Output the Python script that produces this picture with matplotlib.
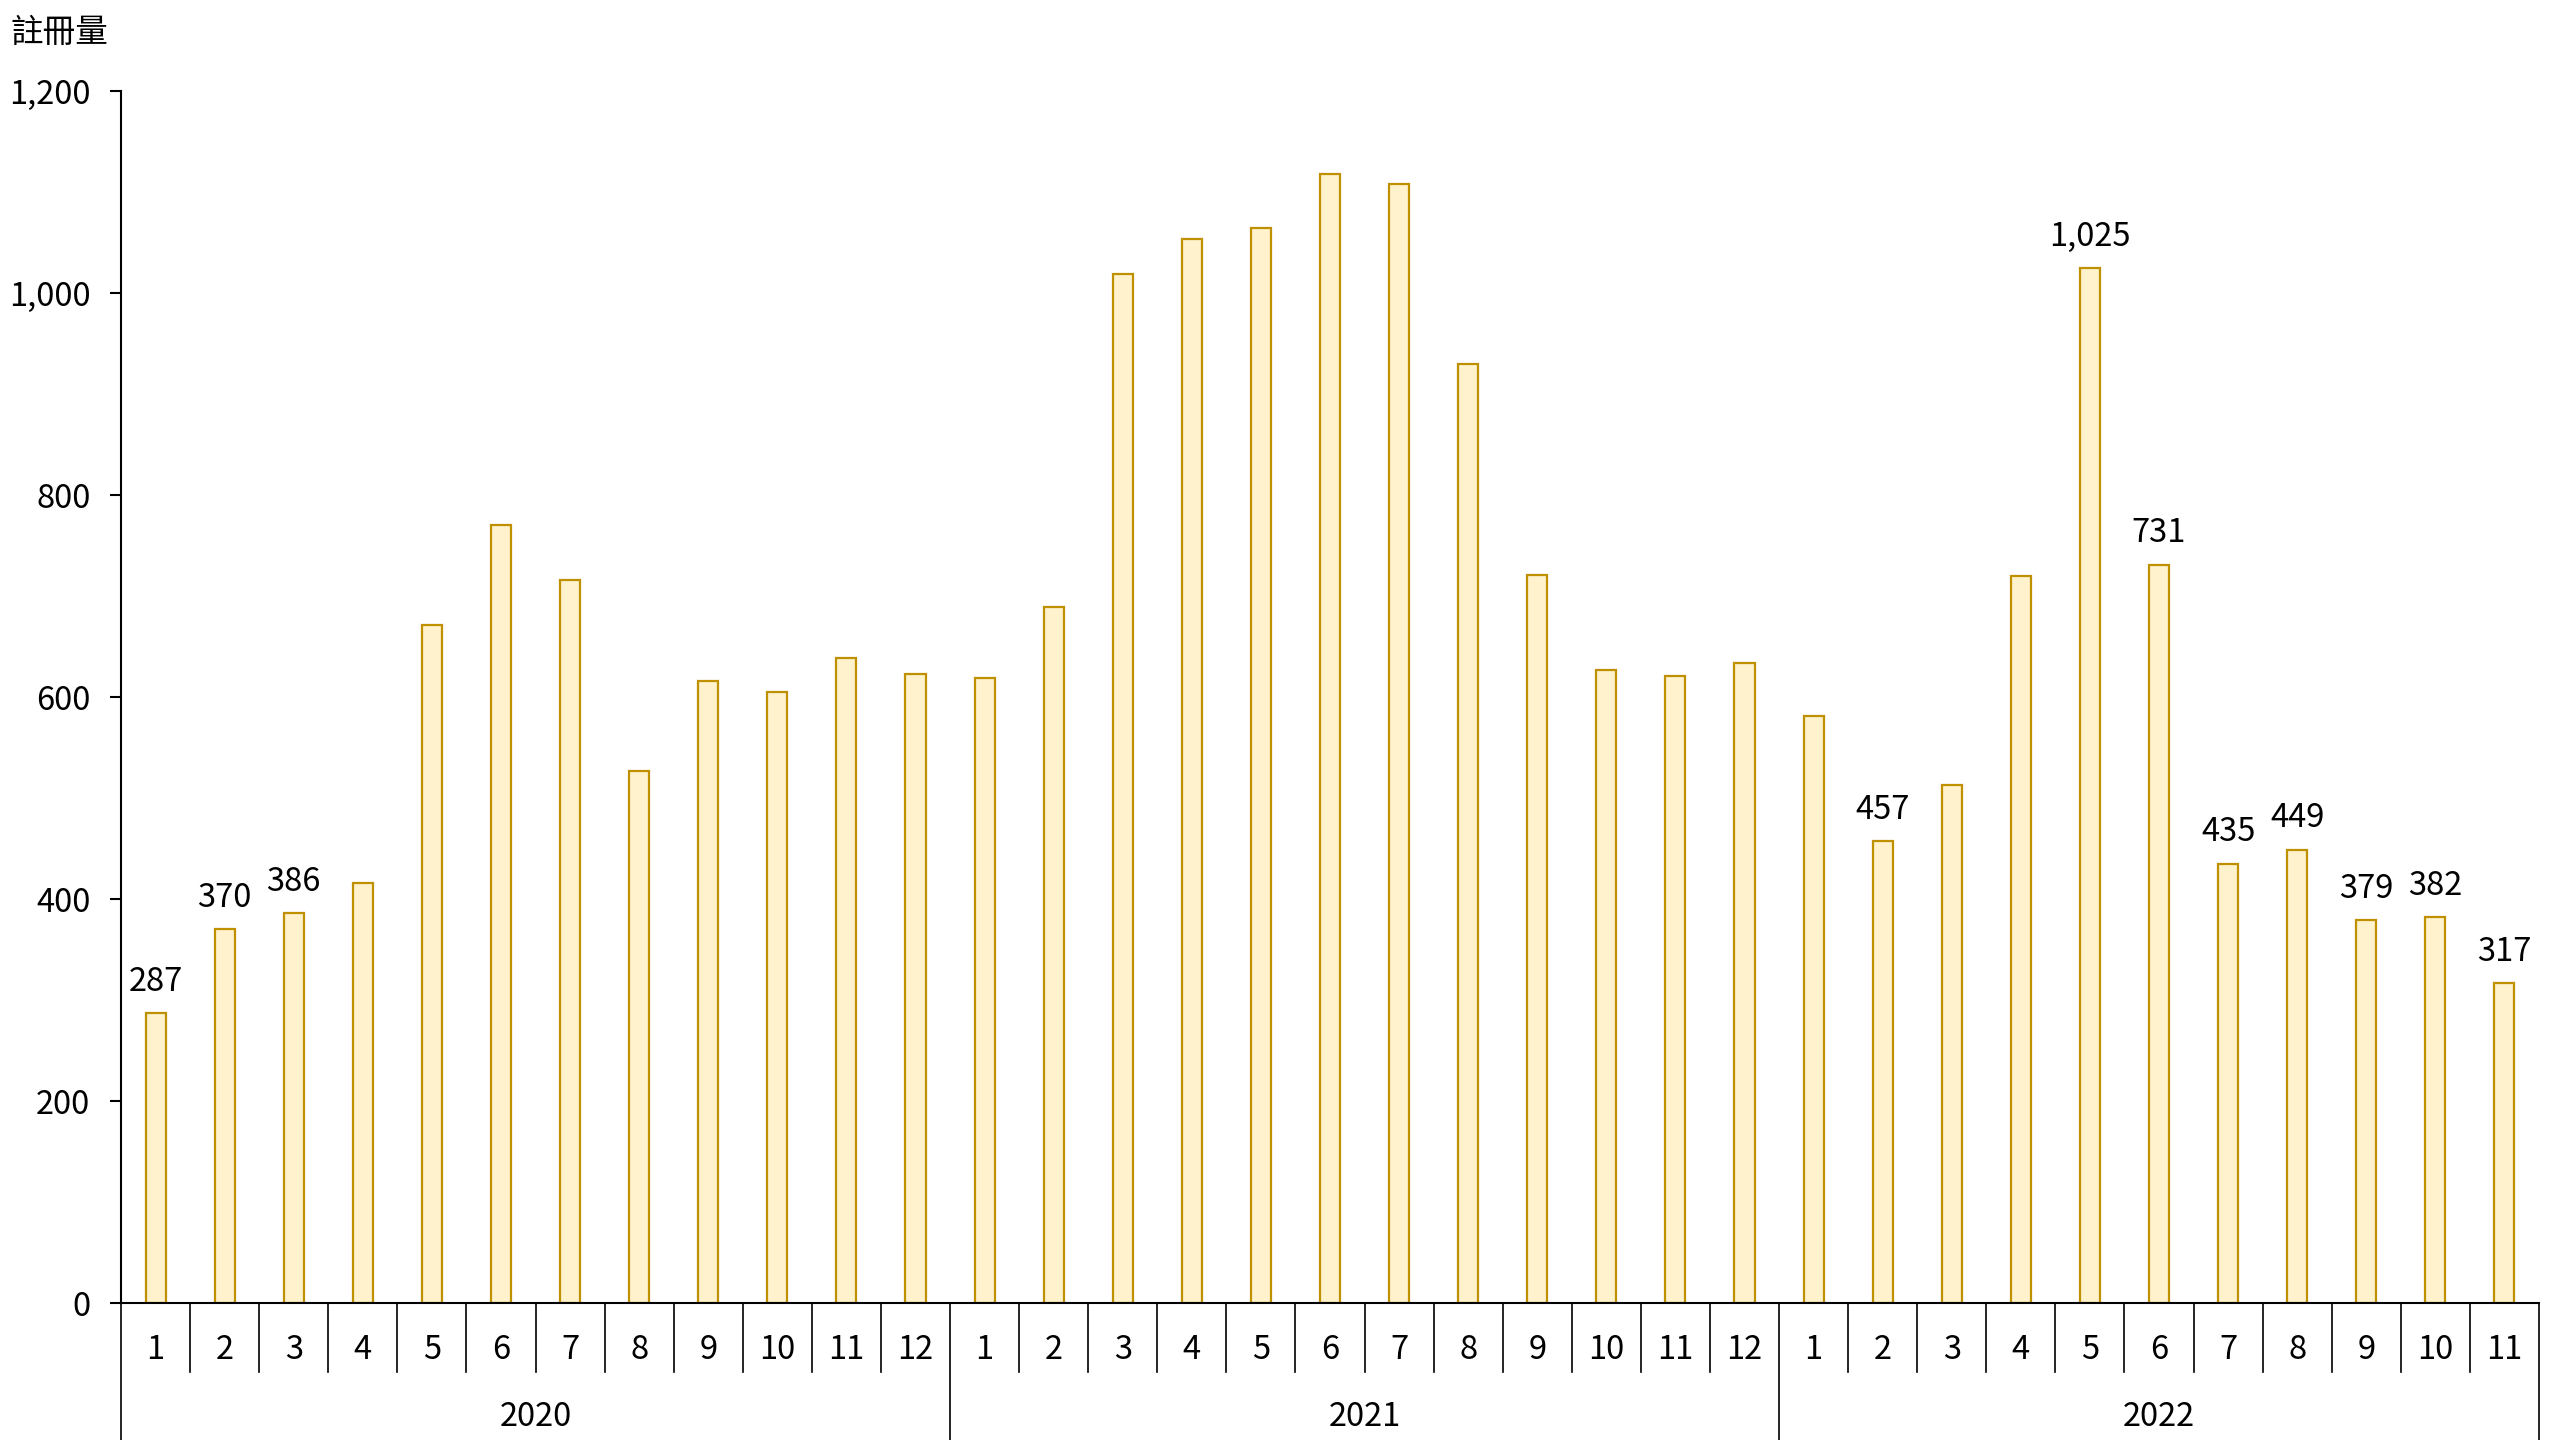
import numpy as np
import matplotlib.pyplot as plt
from matplotlib.ticker import FuncFormatter
from matplotlib.transforms import blended_transform_factory

plt.rcParams['font.family'] = ['Noto Sans CJK TC', 'DejaVu Sans']

# ===================== DATOS =====================
years = ["2020", "2021", "2022"]
months_per_year = [12, 12, 11]

values_2020 = [287, 370, 386, 416, 671, 770, 716, 527, 616, 605, 639, 623]
values_2021 = [619, 689, 1019, 1053, 1064, 1118, 1108, 930, 721, 627, 621, 634]
values_2022 = [581, 457, 513, 720, 1025, 731, 435, 449, 379, 382, 317]

labeled_2020 = [1, 2, 3]
labeled_2022 = [2, 5, 6, 7, 8, 9, 10, 11]

y_label = "註冊量"
y_ticks = [0, 200, 400, 600, 800, 1000, 1200]

values = values_2020 + values_2021 + values_2022
month_labels = [str(m) for n in months_per_year for m in range(1, n + 1)]
show_label = ([m in labeled_2020 for m in range(1, 13)]
              + [False] * 12
              + [m in labeled_2022 for m in range(1, 12)])

# ===================== GRÁFICO =====================
W, H = 2560, 1440
fig = plt.figure(figsize=(W / 100, H / 100), dpi=100)
x_left, x_right, y_zero, y_top = 121, 2539, 1303, 91
ax = fig.add_axes([x_left / W, (H - y_zero) / H,
                   (x_right - x_left) / W, (y_zero - y_top) / H])

fill = "#FFF2CC"
edge = "#BF9000"
fs = 23.5

x = np.arange(len(values))
bars = ax.bar(x, values, width=0.29, color=fill, edgecolor=edge, linewidth=1.6)

for xi, v, show in zip(x, values, show_label):
    if show:
        ax.annotate(f"{v:,}", (xi, v), xytext=(0, 11), textcoords="offset points",
                    ha="center", va="bottom", fontsize=fs)

ax.set_xlim(-0.5, len(values) - 0.5)
ax.set_ylim(0, 1200)
ax.set_yticks(y_ticks)
ax.yaxis.set_major_formatter(FuncFormatter(lambda v, p: f"{int(v):,}"))
ax.tick_params(axis="y", labelsize=fs, length=8, width=1.5, pad=14, direction="out")
ax.set_xticks([])

for s in ["top", "right"]:
    ax.spines[s].set_visible(False)
ax.spines["left"].set_linewidth(1.5)
ax.spines["bottom"].set_linewidth(1.5)

# Eje de categorías de dos niveles
tr = blended_transform_factory(ax.transData, fig.transFigure)
y0 = (H - y_zero) / H
y_month_sep = (H - 1372) / H
y_month_txt = (H - 1350) / H
y_year_txt = (H - 1417) / H

year_bounds = np.cumsum([0] + months_per_year) - 0.5
for b in np.arange(-0.5, len(values) + 0.5):
    is_year = np.any(np.isclose(b, year_bounds))
    ax.plot([b, b], [y0, 0 if is_year else y_month_sep], transform=tr,
            color="black", lw=1.2, clip_on=False)

for xi, lab in zip(x, month_labels):
    ax.text(xi, y_month_txt, lab, transform=tr, ha="center", va="center", fontsize=fs)

for i, yr in enumerate(years):
    ax.text((year_bounds[i] + year_bounds[i + 1]) / 2, y_year_txt, yr, transform=tr,
            ha="center", va="center", fontsize=fs)

fig.text(10 / W, 1 - 33 / H, y_label, ha="left", va="center", fontsize=fs)

fig.savefig("out.png", dpi=100)
